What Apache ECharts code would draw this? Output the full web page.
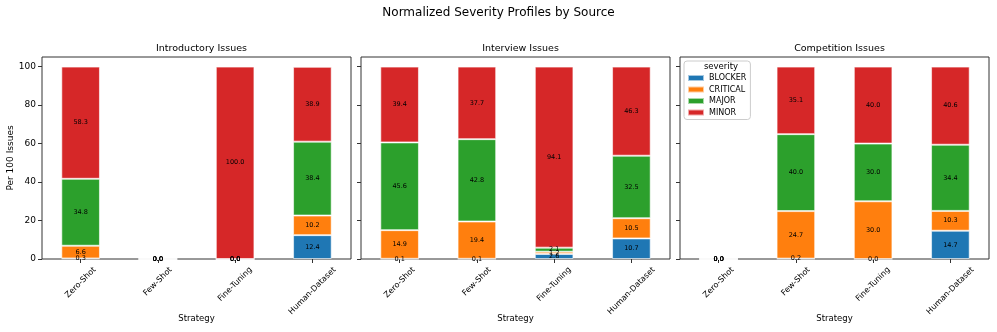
<!DOCTYPE html>
<html>
<head>
<meta charset="utf-8">
<script src="https://cdn.jsdelivr.net/npm/echarts@6/dist/echarts.min.js"></script>
<style>
  html, body { margin: 0; padding: 0; background: #fff; }
  #chart { width: 997px; height: 332px; }
</style>
</head>
<body>
<div id="chart"></div>
<script>
// categories and severity levels
const strategies = ['Zero-Shot', 'Few-Shot', 'Fine-Tuning', 'Human-Dataset'];
const severities = ['BLOCKER', 'CRITICAL', 'MAJOR', 'MINOR'];
const panelTitles = ['Introductory Issues', 'Interview Issues', 'Competition Issues'];
const yTicks = [0, 20, 40, 60, 80, 100];

// per 100 issues, one array per severity, ordered like strategies
const introBlocker  = [0.3, 0, 0, 12.4];
const introCritical = [6.6, 0, 0, 10.2];
const introMajor    = [34.8, 0, 0, 38.4];
const introMinor    = [58.3, 0, 100.0, 38.9];

const interBlocker  = [0.1, 0.1, 2.6, 10.7];
const interCritical = [14.9, 19.4, 1.2, 10.5];
const interMajor    = [45.6, 42.8, 2.1, 32.5];
const interMinor    = [39.4, 37.7, 94.1, 46.3];

const compBlocker  = [0, 0.2, 0, 14.7];
const compCritical = [0, 24.7, 30.0, 10.3];
const compMajor    = [0, 40.0, 30.0, 34.4];
const compMinor    = [0, 35.1, 40.0, 40.6];

const panels = [
  [introBlocker, introCritical, introMajor, introMinor],
  [interBlocker, interCritical, interMajor, interMinor],
  [compBlocker, compCritical, compMajor, compMinor]
];

const colors = ['#1f77b4', '#ff7f0e', '#2ca02c', '#d62728'];
const gridLefts = [42, 361, 680];
const gridW = 309;

const font = 'DejaVu Sans';
const xLabelSize = 8;

// rotated tick labels centred under the tick (matplotlib style):
// push each label down depending on its length
const ctx = document.createElement('canvas').getContext('2d');
ctx.font = xLabelSize + 'px "' + font + '"';
const xRich = {};
strategies.forEach((s, k) => {
  const L = ctx.measureText(s).width;
  const h = 10;
  const d = 6 + 0.354 * (L + h) - 4;
  const p = 1.414 * d;
  xRich['r' + k] = { fontFamily: font, fontSize: xLabelSize, color: '#000', padding: [p, p, 0, 0] };
});

var myChart = echarts.init(document.getElementById('chart'));

const grids = [], xAxes = [], yAxes = [], series = [];
const titles = [{
  text: 'Normalized Severity Profiles by Source',
  left: 'center', top: 2,
  textStyle: { fontFamily: font, fontSize: 12, fontWeight: 'normal', color: '#000' }
}];

panels.forEach((panel, i) => {
  grids.push({
    left: gridLefts[i], top: 57, width: gridW, height: 202,
    outerBoundsMode: 'none', containLabel: false,
    show: true, borderColor: '#333', borderWidth: 1, backgroundColor: 'transparent'
  });
  titles.push({
    text: panelTitles[i],
    left: gridLefts[i] + gridW / 2, top: 39, textAlign: 'center',
    textStyle: { fontFamily: font, fontSize: 9.5, fontWeight: 'normal', color: '#000' }
  });
  xAxes.push({
    type: 'category', gridIndex: i, data: strategies,
    name: 'Strategy', nameLocation: 'middle', nameGap: 55, nameMoveOverlap: false,
    nameTextStyle: { fontFamily: font, fontSize: 8.5, color: '#000' },
    axisLine: { show: false },
    axisTick: { show: true, alignWithLabel: true, length: 4, lineStyle: { color: '#333' } },
    axisLabel: {
      rotate: 45, align: 'center', verticalAlign: 'middle', margin: 4, interval: 0,
      formatter: (v, idx) => '{r' + idx + '|' + v + '}',
      rich: xRich
    }
  });
  yAxes.push({
    type: 'value', gridIndex: i, min: 0, max: 105,
    name: i === 0 ? 'Per 100 Issues' : '',
    nameLocation: 'middle', nameGap: 27, nameMoveOverlap: false,
    nameTextStyle: { fontFamily: font, fontSize: 9, color: '#000' },
    splitLine: { show: false },
    axisLine: { show: false },
    axisTick: { show: true, length: 4, customValues: yTicks, lineStyle: { color: '#333' } },
    axisLabel: { show: i === 0, customValues: yTicks, fontFamily: font, fontSize: 9, color: '#000', margin: 6 }
  });
  panel.forEach((vals, s) => {
    series.push({
      name: severities[s], type: 'bar', stack: 'p' + i,
      xAxisIndex: i, yAxisIndex: i,
      data: vals, barWidth: '50%',
      itemStyle: { color: colors[s], borderColor: 'rgba(255,255,255,0.6)', borderWidth: 1 },
      label: {
        show: true, position: 'inside',
        formatter: p => p.value.toFixed(1),
        fontFamily: font, fontSize: 6.5, color: '#000'
      },
      emphasis: { disabled: true }
    });
  });
});

titles.push({
  text: 'severity', left: 716, top: 57, textAlign: 'center',
  textStyle: { fontFamily: font, fontSize: 8.5, fontWeight: 'normal', color: '#000' }
});

myChart.setOption({
  animation: false,
  color: colors,
  title: titles,
  grid: grids,
  xAxis: xAxes,
  yAxis: yAxes,
  legend: {
    data: severities, orient: 'vertical', left: 684, top: 61,
    icon: 'rect', itemWidth: 16, itemHeight: 6, itemGap: 3.5,
    padding: [13, 4, 3, 3],
    borderColor: '#ccc', borderWidth: 1, borderRadius: 3,
    textStyle: { fontFamily: font, fontSize: 8, color: '#000' }
  },
  series: series
});
</script>
</body>
</html>
